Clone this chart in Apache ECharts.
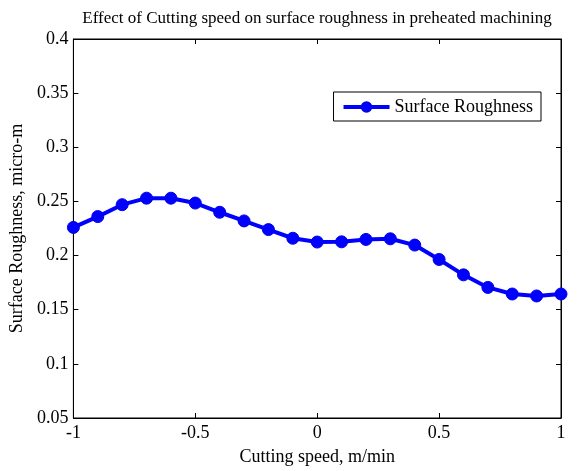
<!DOCTYPE html>
<html><head><meta charset="utf-8">
<script src="https://cdn.jsdelivr.net/npm/echarts@6/dist/echarts.min.js"></script>
<style>html,body{margin:0;padding:0;background:#fff}#c{width:578px;height:471px}</style>
</head><body><div id="c"></div>
<script>
const title = 'Effect of Cutting speed on surface roughness in preheated machining';
const xName = 'Cutting speed, m/min';
const yName = 'Surface Roughness, micro-m';
const seriesName = 'Surface Roughness';
const cuttingSpeed = [-1, -0.9, -0.8, -0.7, -0.6, -0.5, -0.4, -0.3, -0.2, -0.1, 0, 0.1, 0.2, 0.3, 0.4, 0.5, 0.6, 0.7, 0.8, 0.9, 1];
const roughness = [0.226, 0.236, 0.247, 0.253, 0.253, 0.2485, 0.240, 0.232, 0.224, 0.216, 0.2125, 0.2127, 0.2149, 0.2155, 0.2097, 0.1964, 0.1822, 0.1706, 0.1645, 0.1627, 0.1645];

const font = 'Liberation Serif';
const chart = echarts.init(document.getElementById('c'));
const tickStyle = {show: true, inside: true, length: 5, lineStyle: {color: '#000', width: 1}};
const lineStyle = {show: true, onZero: false, lineStyle: {color: '#000', width: 1}};
chart.setOption({
  animation: false,
  backgroundColor: '#fff',
  title: {text: title, left: 312, textAlign: 'center', top: 5,
    textStyle: {fontFamily: font, fontSize: 17, fontWeight: 'normal', color: '#000'}},
  grid: {left: 73, right: 17, top: 39, bottom: 49, show: true, borderColor: '#000', borderWidth: 1, backgroundColor: '#fff'},
  legend: {
    data: [seriesName], right: 37, top: 92, orient: 'vertical',
    backgroundColor: '#fff', borderColor: '#000', borderWidth: 1, padding: [6, 8, 5, 8],
    itemWidth: 46, itemHeight: 12, itemGap: 4,
    lineStyle: {width: 4, color: '#0000ff'},
    textStyle: {fontFamily: font, fontSize: 18, color: '#000'}
  },
  xAxis: [{
    type: 'value', min: -1, max: 1, interval: 0.5,
    name: xName, nameLocation: 'middle', nameGap: 30,
    nameTextStyle: {fontFamily: font, fontSize: 18, color: '#000'},
    axisLine: lineStyle,
    axisTick: tickStyle, splitLine: {show: false},
    axisLabel: {fontFamily: font, fontSize: 18, color: '#000', margin: 6}
  }, {
    type: 'value', min: -1, max: 1, interval: 0.5, position: 'top',
    axisLine: lineStyle,
    axisTick: tickStyle, splitLine: {show: false}, axisLabel: {show: false}
  }],
  yAxis: [{
    type: 'value', min: 0.05, max: 0.4, interval: 0.05,
    name: yName, nameLocation: 'middle', nameGap: 46,
    nameTextStyle: {fontFamily: font, fontSize: 18, color: '#000'},
    axisLine: lineStyle,
    axisTick: tickStyle, splitLine: {show: false},
    axisLabel: {fontFamily: font, fontSize: 18, color: '#000', margin: 5,
      formatter: v => String(Math.round(v * 100) / 100)}
  }, {
    type: 'value', min: 0.05, max: 0.4, interval: 0.05, position: 'right',
    axisLine: lineStyle,
    axisTick: tickStyle, splitLine: {show: false}, axisLabel: {show: false}
  }],
  series: [{
    name: seriesName, type: 'line',
    data: cuttingSpeed.map((x, i) => [x, roughness[i]]),
    symbol: 'circle', symbolSize: 12,
    lineStyle: {color: '#0000ff', width: 4},
    itemStyle: {color: '#0000ff', borderColor: '#0000ee', borderWidth: 1},
    clip: false, z: 3
  }]
});
</script></body></html>
